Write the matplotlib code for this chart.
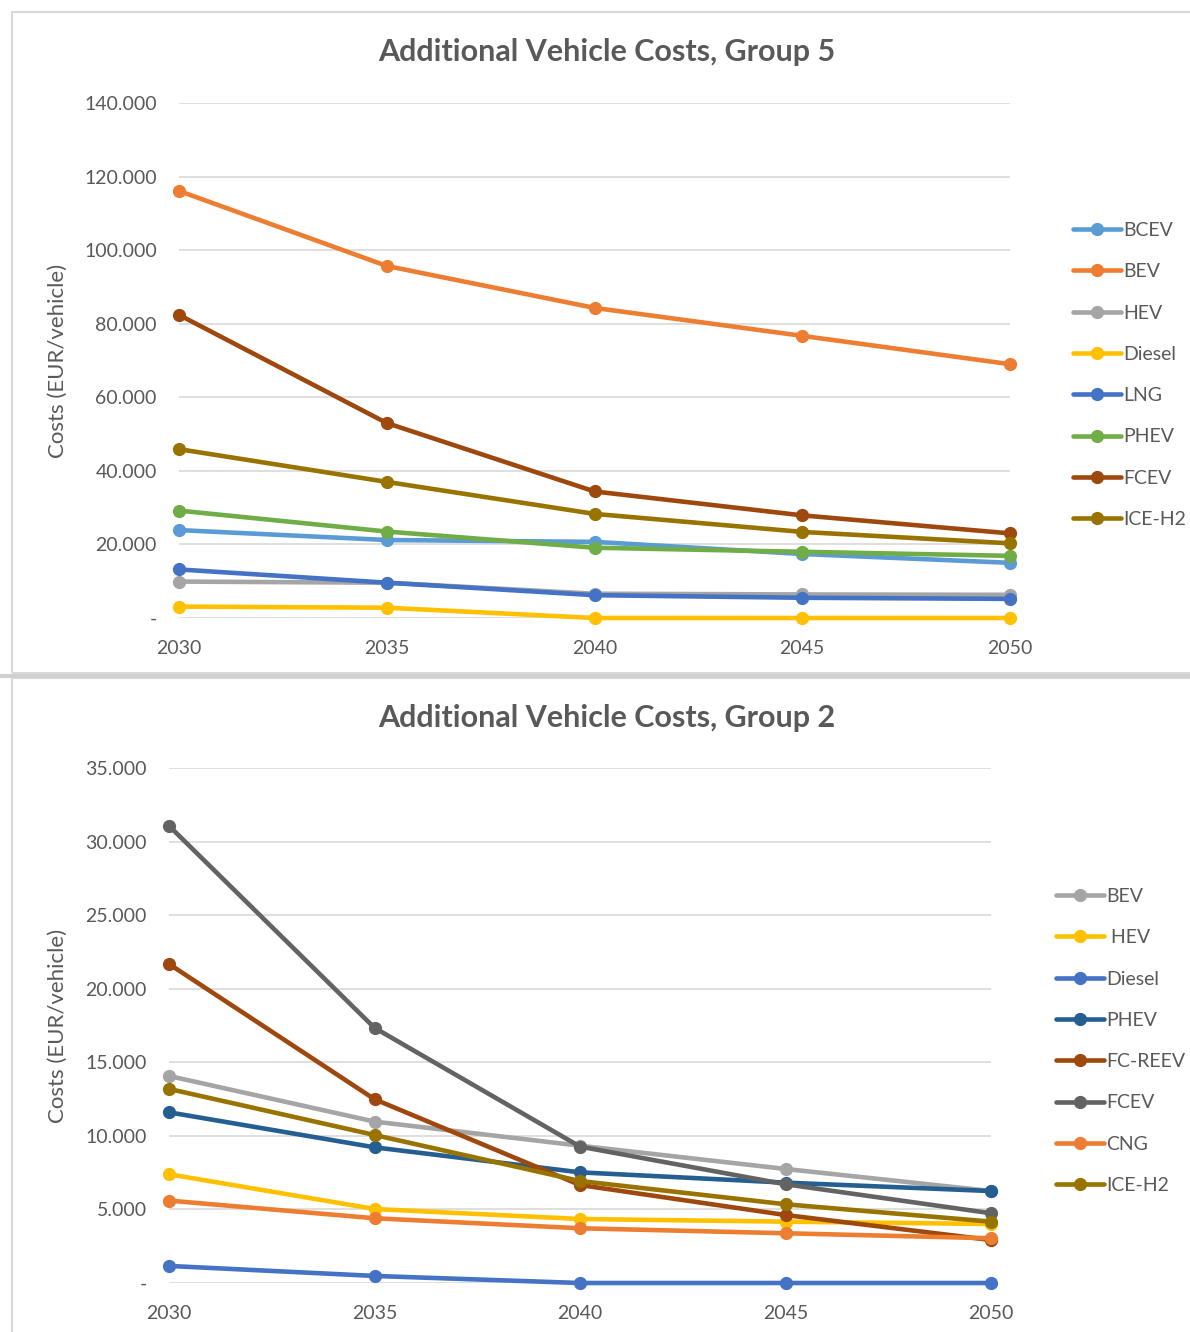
import matplotlib.pyplot as plt
from matplotlib.patches import Rectangle

plt.rcParams['font.family'] = ['Lato', 'DejaVu Sans']

years = [2030, 2035, 2040, 2045, 2050]

# Group 5
g5_names = ['BCEV', 'BEV', 'HEV', 'Diesel', 'LNG', 'PHEV', 'FCEV', 'ICE-H2']
g5_colors = ['#5B9BD5', '#ED7D31', '#A5A5A5', '#FFC000', '#4472C4', '#70AD47', '#9E480E', '#997300']
g5_bcev = [23900, 21200, 20700, 17400, 15000]
g5_bev = [116100, 95700, 84300, 76700, 69000]
g5_hev = [9900, 9600, 6600, 6400, 6300]
g5_diesel = [3100, 2800, 0, 0, 0]
g5_lng = [13200, 9600, 6200, 5500, 5200]
g5_phev = [29200, 23500, 19100, 18000, 16900]
g5_fcev = [82400, 53000, 34400, 27900, 23000]
g5_iceh2 = [45900, 37000, 28300, 23400, 20300]
g5_values = [g5_bcev, g5_bev, g5_hev, g5_diesel, g5_lng, g5_phev, g5_fcev, g5_iceh2]

# Group 2
g2_names = ['BEV', ' HEV', 'Diesel', 'PHEV', 'FC-REEV', 'FCEV', 'CNG', 'ICE-H2']
g2_colors = ['#A5A5A5', '#FFC000', '#4472C4', '#255E91', '#9E480E', '#636363', '#ED7D31', '#997300']
g2_bev = [14070, 10970, 9330, 7750, 6250]
g2_hev = [7390, 5030, 4350, 4170, 4010]
g2_diesel = [1160, 480, 0, 0, 0]
g2_phev = [11600, 9220, 7520, 6820, 6250]
g2_fcreev = [21680, 12490, 6660, 4620, 2920]
g2_fcev = [31070, 17340, 9270, 6710, 4740]
g2_cng = [5600, 4400, 3720, 3380, 3040]
g2_iceh2 = [13190, 10060, 6930, 5350, 4170]
g2_values = [g2_bev, g2_hev, g2_diesel, g2_phev, g2_fcreev, g2_fcev, g2_cng, g2_iceh2]

g5_ticks = [0, 20000, 40000, 60000, 80000, 100000, 120000, 140000]
g2_ticks = [0, 5000, 10000, 15000, 20000, 25000, 30000, 35000]

text_col = '#595959'


def fmt(v):
    if v == 0:
        return '-'
    return '{:,.3f}'.format(v / 1000).replace(',', '')


fig = plt.figure(figsize=(11.9, 13.32), dpi=100)

# panel borders
fig.patches.append(Rectangle((12 / 1190, 1 - 673 / 1332), 1.2, 661 / 1332, transform=fig.transFigure,
                             fill=False, edgecolor='#d9d9d9', linewidth=1.5))
fig.patches.append(Rectangle((12 / 1190, -0.1), 1.2, 0.1 + 1 - 678 / 1332, transform=fig.transFigure,
                             fill=False, edgecolor='#d9d9d9', linewidth=1.5))
fig.add_artist(plt.Line2D([0, 1], [1 - 676 / 1332] * 2, transform=fig.transFigure, color='#d0d0d0', lw=3))


def draw(rect, names, colors, values, ticks, title, title_y, ylab_x, leg_anchor):
    ax = fig.add_axes(rect)
    for name, col, vals in zip(names, colors, values):
        ax.plot(years, vals, color=col, lw=3.3, marker='o', markersize=8.5, label=name,
                clip_on=False, solid_capstyle='round')
    ax.set_xlim(2030, 2050)
    ax.set_ylim(ticks[0], ticks[-1])
    ax.set_xticks(years)
    ax.set_yticks(ticks)
    ax.set_yticklabels([fmt(t) for t in ticks])
    ax.grid(axis='y', color='#d9d9d9', lw=1.2)
    ax.set_axisbelow(True)
    for s in ax.spines.values():
        s.set_visible(False)
    ax.tick_params(axis='both', length=0, labelsize=14, labelcolor=text_col)
    ax.tick_params(axis='y', pad=16)
    ax.tick_params(axis='x', pad=16)
    fig.text(0.51, title_y, title, ha='center', va='center', fontsize=22, fontweight='bold', color=text_col)
    fig.text(ylab_x, rect[1] + rect[3] * 0.5, 'Costs (EUR/vehicle)', rotation=90, ha='center', va='center',
             fontsize=16, color=text_col)
    ax.legend(loc='center left', bbox_to_anchor=leg_anchor, bbox_transform=fig.transFigure, frameon=False,
              fontsize=14, labelcolor=text_col, handlelength=2.5, handletextpad=0.1, labelspacing=1.25,
              borderaxespad=0)
    return ax


draw([179 / 1190, 1 - 618 / 1332, 831 / 1190, 515 / 1332], g5_names, g5_colors, g5_values, g5_ticks,
     'Additional Vehicle Costs, Group 5', 1 - 52 / 1332, 58 / 1190, (1065 / 1190, 1 - 375 / 1332))
draw([169 / 1190, 1 - 1283 / 1332, 822 / 1190, 515 / 1332], g2_names, g2_colors, g2_values, g2_ticks,
     'Additional Vehicle Costs, Group 2', 1 - 718 / 1332, 58 / 1190, (1048 / 1190, 1 - 1041 / 1332))

plt.savefig('out.png', dpi=100)
